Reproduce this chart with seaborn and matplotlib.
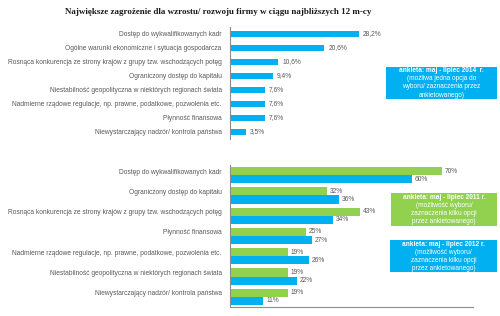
import matplotlib
matplotlib.use('Agg')
import matplotlib.pyplot as plt
import matplotlib.transforms as mtransforms
from matplotlib.patches import Rectangle
import seaborn as sns
import pandas as pd

# Top chart data (2014 survey)
top_categories = [
    'Dostęp do wykwalifikowanych kadr',
    'Ogólne warunki ekonomiczne i sytuacja gospodarcza',
    'Rosnąca konkurencja ze strony krajów z grupy tzw. wschodzących potęg',
    'Ograniczony dostęp do kapitału',
    'Niestabilność geopolityczna w niektórych regionach świata',
    'Nadmierne rządowe regulacje, np. prawne, podatkowe, pozwolenia etc.',
    'Płynność finansowa',
    'Niewystarczający nadzór/ kontrola państwa',
]
top_values = [28.2, 20.6, 10.6, 9.4, 7.6, 7.6, 7.6, 3.5]

# Bottom chart data (2011 vs 2012 surveys)
bottom_categories = [
    'Dostęp do wykwalifikowanych kadr',
    'Ograniczony dostęp do kapitału',
    'Rosnąca konkurencja ze strony krajów z grupy tzw. wschodzących potęg',
    'Płynność finansowa',
    'Nadmierne rządowe regulacje, np. prawne, podatkowe, pozwolenia etc.',
    'Niestabilność geopolityczna w niektórych regionach świata',
    'Niewystarczający nadzór/ kontrola państwa',
]
values_2011 = [70, 32, 43, 25, 19, 19, 19]
values_2012 = [60, 36, 34, 27, 26, 22, 11]
years = ['2011', '2012']

blue = '#00B0F0'
green = '#92D050'
gray_txt = '#595959'
axis_col = '#8c8c8c'

sns.set_style('white')
plt.rcParams['font.family'] = ['Liberation Sans', 'DejaVu Sans']

W, H = 500, 316
fig = plt.figure(figsize=(5, 3.16), dpi=100)


def px_rect(x0, y0, x1, y1):
    return [x0 / W, 1 - y1 / H, (x1 - x0) / W, (y1 - y0) / H]


# title
fig.text(218 / W, 1 - 12 / H,
         'Największe zagrożenie dla wzrostu/ rozwoju firmy w ciągu najbliższych 12 m-cy',
         ha='center', va='center', fontsize=6.5, fontweight='bold',
         family='Liberation Serif', color='#1a1a1a')

lab_size = 4.8

# ---- top chart
ax1 = fig.add_axes(px_rect(230, 27, 497, 139))
sns.barplot(x=top_values, y=top_categories, orient='h', color=blue,
            saturation=1, width=0.43, linewidth=0, ax=ax1)
ax1.set_xlim(0, 267 / 4.57)
ax1.set_xlabel('')
ax1.set_ylabel('')
ax1.set_xticks([])
for s in ['top', 'right', 'bottom']:
    ax1.spines[s].set_visible(False)
ax1.spines['left'].set_color(axis_col)
ax1.spines['left'].set_linewidth(0.8)
ax1.tick_params(axis='y', length=0, pad=6, labelsize=lab_size, labelcolor=gray_txt)
ax1.bar_label(ax1.containers[0],
              labels=[f'{v:.1f}%'.replace('.', ',') for v in top_values],
              padding=3, fontsize=lab_size, color=gray_txt)

# ---- bottom chart
df = pd.DataFrame({
    'kategoria': bottom_categories * 2,
    'wartosc': values_2011 + values_2012,
    'rok': [years[0]] * len(values_2011) + [years[1]] * len(values_2012),
})
ax2 = fig.add_axes(px_rect(230, 165, 473, 307))
sns.barplot(data=df, x='wartosc', y='kategoria', hue='rok', orient='h',
            hue_order=years, palette=[green, blue], saturation=1, width=0.8,
            linewidth=0, ax=ax2, legend=False)
ax2.set_xlim(0, 243 / 3.03)
ax2.set_xlabel('')
ax2.set_ylabel('')
ax2.set_xticks([])
for s in ['top', 'right']:
    ax2.spines[s].set_visible(False)
for s in ['left', 'bottom']:
    ax2.spines[s].set_color(axis_col)
    ax2.spines[s].set_linewidth(0.8)
ax2.tick_params(axis='y', length=0, pad=6, labelsize=lab_size, labelcolor=gray_txt)
shift = mtransforms.ScaledTranslation(0, 0.04, fig.dpi_scale_trans)
for lbl in ax2.get_yticklabels():
    lbl.set_transform(lbl.get_transform() + shift)
for cont, vals in zip(ax2.containers, [values_2011, values_2012]):
    ax2.bar_label(cont, labels=[f'{v}%' for v in vals], padding=2,
                  fontsize=lab_size, color=gray_txt)

# ---- annotation boxes
boxes = [
    ((386, 67, 497, 99), blue,
     ['ankieta: maj - lipiec 2014  r.', '(możliwa jedna opcja do',
      'wyboru/ zaznaczenia przez', 'ankietowanego)']),
    ((391, 193, 497, 226), green,
     ['ankieta: maj - lipiec 2011 r.', '(możliwość wyboru/',
      'zaznaczenia kilku opcji', 'przez ankietowanego)']),
    ((390, 240, 497, 272), blue,
     ['ankieta: maj - lipiec 2012 r.', '(możliwość wyboru/',
      'zaznaczenia kilku opcji', 'przez ankietowanego)']),
]
for (x0, y0, x1, y1), col, lines in boxes:
    r = px_rect(x0, y0, x1, y1)
    fig.add_artist(Rectangle((r[0], r[1]), r[2], r[3], transform=fig.transFigure,
                             facecolor=col, edgecolor='none'))
    cx = (x0 + x1) / 2
    step = (y1 - y0) / 4
    for i, t in enumerate(lines):
        fig.text(cx / W, 1 - (y0 + step * (i + 0.5)) / H, t, ha='center',
                 va='center', fontsize=4.7, color='white',
                 fontweight='bold' if i == 0 else 'normal')

fig.savefig('out.png', dpi=100)
